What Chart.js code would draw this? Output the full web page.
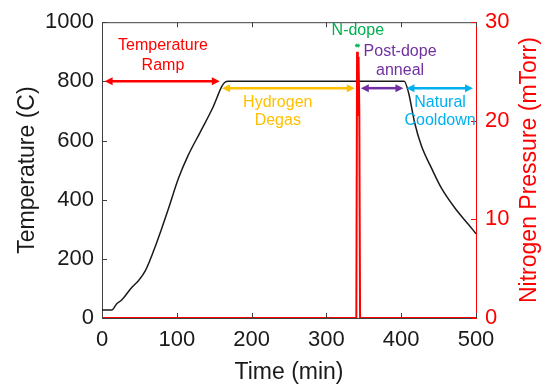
<!DOCTYPE html>
<html lang="en">
<head>
    <meta charset="UTF-8">
    <title>Anneal profile</title>
    <script src="https://cdn.jsdelivr.net/npm/chart.js@4.4.1/dist/chart.umd.min.js"></script>
    <style>
        body { margin: 0; background: #fff; }
    </style>
</head>
<body>
<canvas id="annealChart" width="547" height="386"></canvas>
<script>
    // temperature trace (min, C)
    const tempTime = [0, 13, 20, 26, 40, 49, 58, 69, 80, 89, 102, 115, 131, 149, 160, 164, 169, 404, 410, 418, 427, 441, 454, 472, 490, 500];
    const tempValue = [27, 27, 49, 60, 104, 127, 160, 227, 304, 371, 471, 549, 627, 716, 782, 796, 800, 800, 760, 660, 582, 504, 438, 371, 316, 285];

    // nitrogen pressure trace (min, mTorr)
    const presTime = [0, 340, 341, 342, 343, 344, 345, 500];
    const presValue = [0, 0, 27, 20.5, 26.5, 21, 0, 0];

    const xTicks = [0, 100, 200, 300, 400, 500];
    const tempTicks = [0, 200, 400, 600, 800, 1000];
    const presTicks = [0, 10, 20, 30];

    // stage notes, in data units (time, temperature)
    const noteTexts = [["Temperature", "Ramp"], ["Hydrogen", "Degas"], ["N-dope"], ["Post-dope", "anneal"], ["Natural", "Cooldown"]];
    const noteColors = ['#ff0000', '#ffc000', '#00b050', '#7030a0', '#00b0f0'];
    const noteX = [81.5, 235, 342, 398.5, 452];
    const noteY = [[920, 853], [727, 667], [970], [900, 837], [727, 667]];
    const arrowFrom = [3.5, 160.5, 338, 346, 407];
    const arrowTo = [157.5, 338, 345, 403, 496];
    const arrowLevel = [800, 777, 921, 777, 777];

    const FONT = 'Arial, "Liberation Sans", sans-serif';

    function zip(xs, ys) {
        let out = [];
        for (let i = 0; i < xs.length; i++) out.push({x: xs[i], y: ys[i]});
        return out;
    }

    function arrow(ctx, x1, x2, y, color) {
        let head = Math.min(8, (x2 - x1) / 3);
        let hw = head < 8 ? 2.5 : 4;
        ctx.strokeStyle = color;
        ctx.fillStyle = color;
        ctx.lineWidth = 2.5;
        ctx.beginPath();
        ctx.moveTo(x1 + head * 0.8, y);
        ctx.lineTo(x2 - head * 0.8, y);
        ctx.stroke();
        ctx.beginPath();
        ctx.moveTo(x1, y); ctx.lineTo(x1 + head, y - hw); ctx.lineTo(x1 + head, y + hw); ctx.closePath();
        ctx.fill();
        ctx.beginPath();
        ctx.moveTo(x2, y); ctx.lineTo(x2 - head, y - hw); ctx.lineTo(x2 - head, y + hw); ctx.closePath();
        ctx.fill();
    }

    const framePlugin = {
        id: 'frame',
        afterDatasetsDraw(chart) {
            const ctx = chart.ctx;
            const a = chart.chartArea;
            const xs = chart.scales.x, ys = chart.scales.y, ps = chart.scales.y1;
            ctx.save();
            // top border
            ctx.strokeStyle = '#404040';
            ctx.lineWidth = 1;
            ctx.beginPath();
            ctx.moveTo(a.left, a.top + 0.5);
            ctx.lineTo(a.right, a.top + 0.5);
            ctx.stroke();
            // inward ticks
            ctx.beginPath();
            xTicks.forEach(function (v) {
                let px = Math.round(xs.getPixelForValue(v)) + 0.5;
                ctx.moveTo(px, a.bottom); ctx.lineTo(px, a.bottom - 5);
                ctx.moveTo(px, a.top); ctx.lineTo(px, a.top + 5);
            });
            tempTicks.forEach(function (v) {
                let py = Math.round(ys.getPixelForValue(v)) + 0.5;
                ctx.moveTo(a.left, py); ctx.lineTo(a.left + 5, py);
            });
            ctx.stroke();
            ctx.strokeStyle = '#ff0000';
            ctx.beginPath();
            presTicks.forEach(function (v) {
                let py = Math.round(ps.getPixelForValue(v)) + 0.5;
                ctx.moveTo(a.right, py); ctx.lineTo(a.right - 5, py);
            });
            ctx.stroke();

            // stage arrows and notes
            ctx.font = '16px ' + FONT;
            ctx.textAlign = 'center';
            ctx.textBaseline = 'middle';
            for (let i = 0; i < noteTexts.length; i++) {
                arrow(ctx, xs.getPixelForValue(arrowFrom[i]), xs.getPixelForValue(arrowTo[i]),
                    ys.getPixelForValue(arrowLevel[i]), noteColors[i]);
                ctx.fillStyle = noteColors[i];
                for (let j = 0; j < noteTexts[i].length; j++) {
                    ctx.fillText(noteTexts[i][j], xs.getPixelForValue(noteX[i]), ys.getPixelForValue(noteY[i][j]));
                }
            }

            // right axis title, reads bottom to top
            ctx.translate(530, (a.top + a.bottom) / 2);
            ctx.rotate(-Math.PI / 2);
            ctx.fillStyle = '#ff0000';
            ctx.font = '23px ' + FONT;
            ctx.fillText('Nitrogen Pressure (mTorr)', 0, 0);
            ctx.restore();
        }
    };

    function plain(v) { return String(v); }

    const ctx = document.getElementById('annealChart').getContext('2d');
    const annealChart = new Chart(ctx, {
        type: 'line',
        data: {
            datasets: [{
                label: 'Temperature',
                data: zip(tempTime, tempValue),
                yAxisID: 'y',
                borderColor: '#1a1a1a',
                borderWidth: 1.5,
                pointRadius: 0,
                cubicInterpolationMode: 'monotone',
                order: 2
            }, {
                label: 'Nitrogen Pressure',
                data: zip(presTime, presValue),
                yAxisID: 'y1',
                borderColor: '#ff0000',
                borderWidth: 2,
                pointRadius: 0,
                tension: 0,
                order: 1
            }]
        },
        options: {
            responsive: false,
            animation: false,
            devicePixelRatio: 1,
            layout: { padding: { top: 19, left: 0, right: 0, bottom: 0 } },
            plugins: { legend: { display: false }, tooltip: { enabled: false } },
            scales: {
                x: {
                    type: 'linear',
                    min: 0, max: 500,
                    afterFit: function (s) { s.height = 68; },
                    afterBuildTicks: function (s) { s.ticks = xTicks.map(function (v) { return {value: v}; }); },
                    grid: { display: false, drawTicks: false },
                    border: { display: true, color: '#404040', width: 1 },
                    ticks: { color: '#1a1a1a', padding: 9, maxRotation: 0, callback: plain, font: { size: 22, family: FONT } },
                    title: { display: true, text: 'Time (min)', color: '#1a1a1a', padding: { top: 0, bottom: 0 }, font: { size: 23, family: FONT } }
                },
                y: {
                    position: 'left',
                    min: 0, max: 1000,
                    afterFit: function (s) { s.width = 102; },
                    afterBuildTicks: function (s) { s.ticks = tempTicks.map(function (v) { return {value: v}; }); },
                    grid: { display: false, drawTicks: false },
                    border: { display: true, color: '#404040', width: 1 },
                    ticks: { color: '#1a1a1a', padding: 8, callback: plain, font: { size: 22, family: FONT } },
                    title: { display: true, text: 'Temperature (C)', color: '#1a1a1a', padding: { top: 14, bottom: 0 }, font: { size: 23, family: FONT } }
                },
                y1: {
                    position: 'right',
                    min: 0, max: 30,
                    afterFit: function (s) { s.width = 71; },
                    afterBuildTicks: function (s) { s.ticks = presTicks.map(function (v) { return {value: v}; }); },
                    grid: { display: false, drawTicks: false },
                    border: { display: true, color: '#ff0000', width: 1 },
                    ticks: { color: '#ff0000', padding: 9, callback: plain, font: { size: 22, family: FONT } }
                }
            }
        },
        plugins: [framePlugin]
    });
</script>
</body>
</html>
